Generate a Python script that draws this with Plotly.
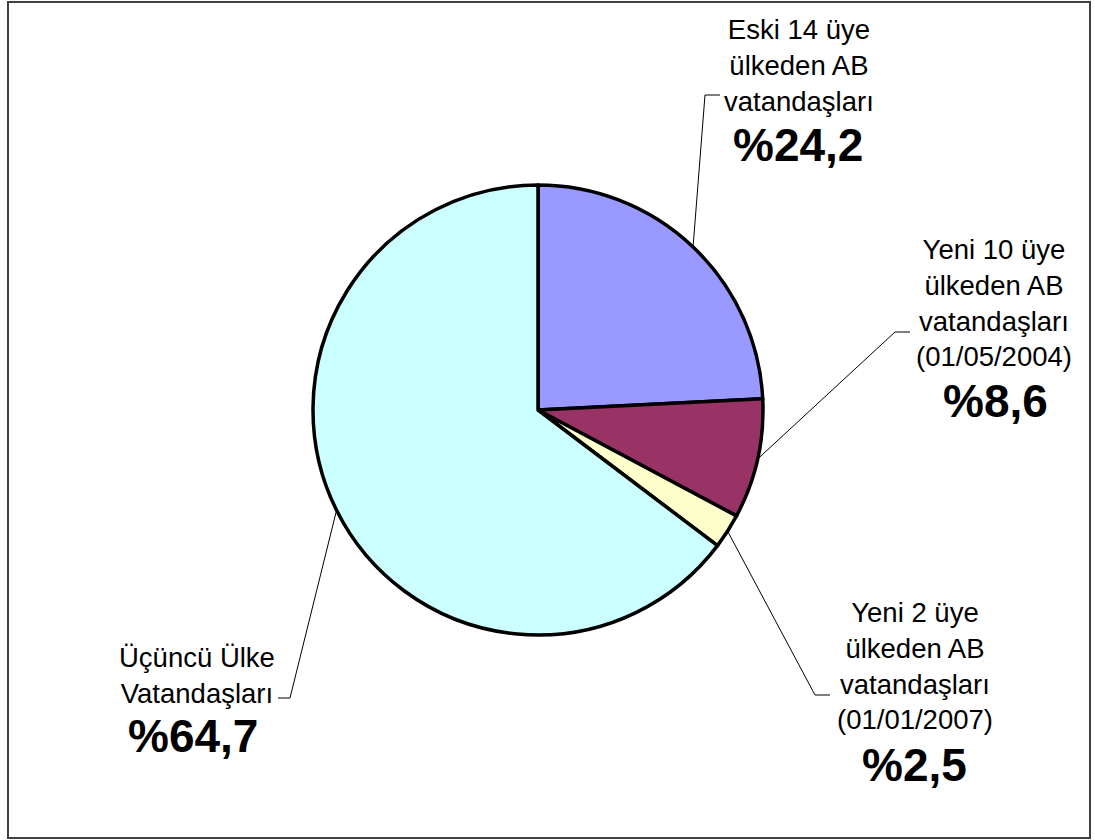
import math
import plotly.graph_objects as go

W, H = 1095, 840

# ---- data ----
labels = [
    "Eski 14 üye<br>ülkeden AB<br>vatandaşları",
    "Yeni 10 üye<br>ülkeden AB<br>vatandaşları<br>(01/05/2004)",
    "Yeni 2 üye<br>ülkeden AB<br>vatandaşları<br>(01/01/2007)",
    "Üçüncü Ülke<br>Vatandaşları",
]
values = [24.2, 8.6, 2.5, 64.7]
value_texts = ["%24,2", "%8,6", "%2,5", "%64,7"]
colors = ["#9999FF", "#993366", "#FFFFCC", "#CCFFFF"]

# ---- layout positions (pixels) ----
cx, cy, R = 538, 410, 225
label_pos = [(799, 66), (994, 303), (915, 666), (197, 675)]
value_pos = [(798, 145), (995, 401), (914, 765), (193, 736)]
elbows = [((705, 95), (720, 95)), ((895, 332), (910, 332)),
          ((815, 695), (830, 695)), ((290, 698), (278, 698))]


def px(x):
    return x / W


def py(y):
    return 1 - y / H


fig = go.Figure()
fig.add_trace(go.Pie(
    labels=[l.replace("<br>", " ") for l in labels],
    values=values,
    sort=False,
    direction="clockwise",
    rotation=0,
    marker=dict(colors=colors, line=dict(color="black", width=3.5)),
    textinfo="none",
    hoverinfo="label+value",
    showlegend=False,
    domain=dict(x=[px(cx - R), px(cx + R)], y=[py(cy + R), py(cy - R)]),
))

shapes = []
annotations = []
total = sum(values)
cum = 0
for i, v in enumerate(values):
    mid = (cum + v / 2) / total * 2 * math.pi
    cum += v
    ex = cx + R * math.sin(mid)
    ey = cy - R * math.cos(mid)
    (bx, by), (hx, hy) = elbows[i]
    path = f"M {px(ex)} {py(ey)} L {px(bx)} {py(by)} L {px(hx)} {py(hy)}"
    shapes.append(dict(type="path", xref="paper", yref="paper", path=path,
                       line=dict(color="black", width=1)))
    lx, ly = label_pos[i]
    annotations.append(dict(x=px(lx), y=py(ly), xref="paper", yref="paper",
                            text=labels[i], showarrow=False, align="center",
                            xanchor="center", yanchor="middle",
                            font=dict(family="Liberation Sans, Arial", size=27.5,
                                      color="black")))
    vx, vy = value_pos[i]
    annotations.append(dict(x=px(vx), y=py(vy), xref="paper", yref="paper",
                            text=f"<b>{value_texts[i]}</b>", showarrow=False,
                            xanchor="center", yanchor="middle",
                            font=dict(family="Liberation Sans, Arial", size=46,
                                      color="black")))

# outer frame
shapes.append(dict(type="rect", xref="paper", yref="paper",
                   x0=px(8), x1=px(1090), y0=py(838), y1=py(2),
                   line=dict(color="#404040", width=2)))

fig.update_layout(
    width=W, height=H,
    margin=dict(l=0, r=0, t=0, b=0),
    paper_bgcolor="white", plot_bgcolor="white",
    shapes=shapes, annotations=annotations,
)

fig.write_html(
    "out.html",
    config={"displayModeBar": False},
    post_script="document.body.style.margin='0';document.body.style.overflow='hidden';",
)
